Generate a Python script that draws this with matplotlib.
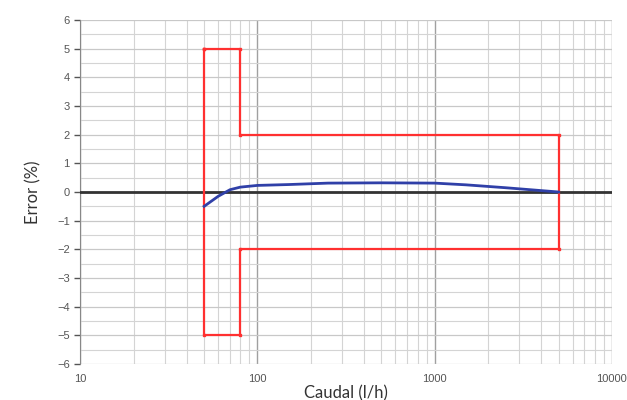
import numpy as np
import matplotlib.pyplot as plt
from matplotlib.ticker import LogLocator, FixedLocator, NullFormatter

# envelope of allowed error (red)
env_x = [50, 80, 80, 5000, 5000, 80, 80, 50, 50]
env_y = [5, 5, 2, 2, -2, -2, -5, -5, 5]

# measured error curve (blue)
curve_x = [50, 60, 70, 80, 100, 150, 250, 500, 1000, 1500, 2500, 5000]
curve_y = [-0.5, -0.15, 0.08, 0.17, 0.23, 0.26, 0.31, 0.32, 0.31, 0.25, 0.15, 0.0]

y_ticks = [6, 5, 4, 3, 2, 1, 0, -1, -2, -3, -4, -5, -6]
x_ticks = [10, 100, 1000, 10000]
x_labels = ['10', '100', '1000', '10000']

fig = plt.figure(figsize=(6.27, 4.0), dpi=100)
ax = fig.add_axes([0.128, 0.09, 0.848, 0.86])

ax.set_xscale('log')
ax.set_xlim(10, 10000)
ax.set_ylim(-6, 6)

# grid
ax.xaxis.set_minor_locator(LogLocator(base=10, subs=np.arange(2, 10)))
ax.xaxis.set_minor_formatter(NullFormatter())
ax.yaxis.set_minor_locator(FixedLocator(np.arange(-5.5, 6, 1.0)))
ax.grid(True, which='minor', color='#d4d4d4', lw=0.8)
ax.grid(True, which='major', axis='y', color='#c8c8c8', lw=0.9)
ax.grid(True, which='major', axis='x', color='#a0a0a0', lw=1.0)
ax.set_axisbelow(True)

ax.set_xticks(x_ticks)
ax.set_xticklabels(x_labels)
ax.set_yticks(y_ticks)
ax.tick_params(axis='both', which='major', labelsize=8, colors='#555555',
               length=4, width=1, labelcolor='#555555')
ax.tick_params(axis='both', which='minor', length=0)
ax.tick_params(axis='x', length=0, pad=7)
for lab in ax.get_xticklabels() + ax.get_yticklabels():
    lab.set_family('Liberation Sans')

for s in ['top', 'right', 'bottom']:
    ax.spines[s].set_visible(False)
ax.spines['left'].set_color('#888888')

ax.axhline(0, color='#333333', lw=2.0, zorder=3)

ax.plot(env_x, env_y, color='#ff3030', lw=1.6, marker='s', ms=2, zorder=4)
ax.plot(curve_x, curve_y, color='#3040a8', lw=2.0, zorder=5)

ax.set_xlabel('Caudal (l/h)', fontsize=12, color='#333333', family='Lato', labelpad=1)
ax.set_ylabel('Error (%)', fontsize=12, color='#333333', family='Lato', labelpad=11)

fig.savefig('out.png', dpi=100)
